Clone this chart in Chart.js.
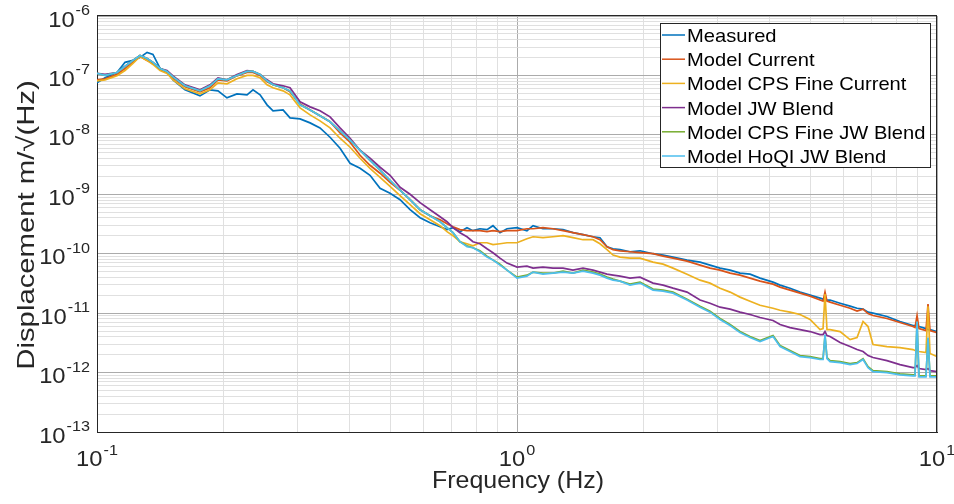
<!DOCTYPE html>
<html>
<head>
<meta charset="utf-8">
<script src="https://cdn.jsdelivr.net/npm/chart.js@4.4.0/dist/chart.umd.min.js"></script>
<style>
  html, body { margin: 0; padding: 0; background: #fff; }
</style>
</head>
<body>
<canvas id="chart" width="954" height="504"></canvas>
<script>
// Frequenzen (Hz), gemeinsam fuer alle Kurven
const freq = [0.1, 0.1045, 0.1116, 0.1166, 0.1218, 0.1266, 0.1316, 0.1359, 0.1413, 0.1468,
  0.1517, 0.162, 0.1759, 0.1858, 0.1941, 0.2039, 0.2154, 0.2276, 0.2352, 0.2445,
  0.254, 0.2625, 0.2773, 0.2881, 0.3044, 0.3216, 0.3396, 0.3588, 0.379, 0.4004,
  0.423, 0.4467, 0.472, 0.4986, 0.5267, 0.5564, 0.5878, 0.6209, 0.6559, 0.6813,
  0.7041, 0.7316, 0.7601, 0.7855, 0.8162, 0.8483, 0.8766, 0.9109, 0.9467, 1.0,
  1.056, 1.092, 1.153, 1.218, 1.287, 1.359, 1.436, 1.517, 1.576, 1.638,
  1.693, 1.759, 1.858, 1.963, 2.108, 2.227, 2.352, 2.54, 2.728, 2.881,
  3.044, 3.216, 3.396, 3.588, 3.79, 4.07, 4.23, 4.467, 4.72, 4.986,
  5.267, 5.354, 5.412, 5.471, 5.564, 5.878, 6.209, 6.451, 6.667, 6.852,
  7.041, 7.601, 8.162, 8.766, 8.864, 8.964, 9.061, 9.414, 9.519, 9.624,
  10];

const measured = [7.51e-8, 9.12e-8, 1.12e-7, 1.66e-7, 1.79e-7, 2.01e-7, 2.44e-7, 2.26e-7, 1.31e-7, 1.17e-7,
  8.44e-8, 5.72e-8, 4.53e-8, 5.72e-8, 5.50e-8, 4.19e-8, 4.90e-8, 4.71e-8, 5.72e-8, 4.71e-8,
  3.20e-8, 2.54e-8, 2.63e-8, 1.93e-8, 1.86e-8, 1.59e-8, 1.31e-8, 9.12e-9, 5.95e-9, 3.32e-9,
  2.74e-9, 2.09e-9, 1.26e-9, 1.04e-9, 8.12e-10, 5.50e-10, 4.04e-10, 3.32e-10, 2.85e-10, 2.54e-10,
  2.74e-10, 2.35e-10, 2.74e-10, 2.44e-10, 2.63e-10, 2.54e-10, 2.96e-10, 2.26e-10, 2.63e-10, 2.74e-10,
  2.44e-10, 2.96e-10, 2.63e-10, 2.63e-10, 2.54e-10, 2.26e-10, 2.09e-10, 1.93e-10, 1.86e-10, 1.31e-10,
  1.21e-10, 1.17e-10, 1.08e-10, 1.12e-10, 1.00e-10, 9.48e-11, 8.77e-11, 7.81e-11, 7.23e-11, 6.43e-11,
  5.72e-11, 5.29e-11, 4.71e-11, 4.53e-11, 3.88e-11, 3.32e-11, 2.96e-11, 2.63e-11, 2.26e-11, 2.01e-11,
  1.79e-11, 1.72e-11, 1.66e-11, 1.66e-11, 1.66e-11, 1.47e-11, 1.31e-11, 1.21e-11, 1.17e-11, 1.04e-11,
  1.00e-11, 8.77e-12, 7.23e-12, 6.19e-12, 6.19e-12, 6.19e-12, 5.95e-12, 5.50e-12, 5.29e-12, 5.29e-12,
  4.90e-12];

const modelCurrent = [8.44e-8, 8.77e-8, 1.04e-7, 1.31e-7, 1.66e-7, 2.09e-7, 1.79e-7, 1.59e-7, 1.26e-7, 1.12e-7,
  9.12e-8, 6.43e-8, 5.29e-8, 6.19e-8, 8.44e-8, 8.12e-8, 9.85e-8, 1.12e-7, 1.12e-7, 1.00e-7,
  7.81e-8, 6.95e-8, 6.19e-8, 5.29e-8, 3.32e-8, 2.63e-8, 2.09e-8, 1.66e-8, 1.08e-8, 7.51e-9,
  4.53e-9, 3.08e-9, 2.26e-9, 1.59e-9, 1.17e-9, 8.12e-10, 5.50e-10, 4.36e-10, 3.73e-10, 3.20e-10,
  2.85e-10, 2.54e-10, 2.44e-10, 2.44e-10, 2.44e-10, 2.35e-10, 2.44e-10, 2.35e-10, 2.44e-10, 2.44e-10,
  2.63e-10, 2.63e-10, 2.74e-10, 2.63e-10, 2.44e-10, 2.26e-10, 2.09e-10, 1.93e-10, 1.72e-10, 1.31e-10,
  1.17e-10, 1.12e-10, 1.08e-10, 1.04e-10, 1.00e-10, 9.12e-11, 8.44e-11, 7.51e-11, 6.43e-11, 5.72e-11,
  5.29e-11, 4.71e-11, 4.36e-11, 3.88e-11, 3.45e-11, 3.08e-11, 2.74e-11, 2.44e-11, 2.17e-11, 1.93e-11,
  1.66e-11, 1.59e-11, 2.26e-11, 1.59e-11, 1.53e-11, 1.36e-11, 1.21e-11, 1.08e-11, 1.17e-11, 9.85e-12,
  9.12e-12, 8.12e-12, 6.95e-12, 5.95e-12, 5.72e-12, 9.12e-12, 5.50e-12, 5.09e-12, 1.42e-11, 5.09e-12,
  4.71e-12];

const cpsFineCurrent = [8.12e-8, 8.44e-8, 9.85e-8, 1.21e-7, 1.59e-7, 2.09e-7, 1.79e-7, 1.53e-7, 1.21e-7, 1.08e-7,
  8.44e-8, 5.95e-8, 4.90e-8, 5.72e-8, 7.51e-8, 7.23e-8, 8.77e-8, 1.00e-7, 1.00e-7, 9.12e-8,
  6.95e-8, 6.19e-8, 5.50e-8, 4.71e-8, 2.85e-8, 2.17e-8, 1.72e-8, 1.31e-8, 8.77e-9, 6.19e-9,
  4.04e-9, 2.74e-9, 1.93e-9, 1.36e-9, 9.48e-10, 6.69e-10, 4.71e-10, 3.73e-10, 2.96e-10, 2.35e-10,
  2.01e-10, 1.59e-10, 1.47e-10, 1.36e-10, 1.53e-10, 1.53e-10, 1.42e-10, 1.47e-10, 1.53e-10, 1.53e-10,
  1.79e-10, 1.93e-10, 1.86e-10, 1.93e-10, 2.01e-10, 1.86e-10, 1.72e-10, 1.72e-10, 1.47e-10, 1.17e-10,
  9.48e-11, 8.77e-11, 8.44e-11, 8.44e-11, 7.23e-11, 6.69e-11, 5.72e-11, 4.53e-11, 3.59e-11, 3.20e-11,
  2.63e-11, 2.26e-11, 1.86e-11, 1.59e-11, 1.36e-11, 1.21e-11, 1.12e-11, 1.04e-11, 9.48e-12, 7.81e-12,
  5.29e-12, 5.50e-12, 2.09e-11, 5.29e-12, 5.29e-12, 4.90e-12, 3.59e-12, 3.88e-12, 7.23e-12, 5.95e-12,
  2.96e-12, 2.74e-12, 2.63e-12, 2.44e-12, 2.35e-12, 2.35e-12, 2.26e-12, 2.17e-12, 1.31e-11, 2.09e-12,
  1.86e-12];

const jwBlend = [1.08e-7, 1.04e-7, 1.12e-7, 1.42e-7, 1.79e-7, 2.17e-7, 1.93e-7, 1.66e-7, 1.31e-7, 1.21e-7,
  9.85e-8, 6.95e-8, 5.72e-8, 6.95e-8, 9.12e-8, 8.44e-8, 1.04e-7, 1.21e-7, 1.17e-7, 1.04e-7,
  8.44e-8, 7.23e-8, 6.69e-8, 6.19e-8, 3.59e-8, 2.96e-8, 2.54e-8, 2.01e-8, 1.31e-8, 8.77e-9,
  5.50e-9, 4.04e-9, 2.85e-9, 2.09e-9, 1.31e-9, 1.00e-9, 7.23e-10, 5.50e-10, 4.19e-10, 3.45e-10,
  2.74e-10, 2.26e-10, 1.93e-10, 1.59e-10, 1.47e-10, 1.21e-10, 1.04e-10, 8.44e-11, 6.95e-11, 5.95e-11,
  6.19e-11, 5.72e-11, 5.95e-11, 5.72e-11, 5.72e-11, 5.29e-11, 5.72e-11, 5.29e-11, 4.90e-11, 4.53e-11,
  4.36e-11, 4.19e-11, 3.88e-11, 4.04e-11, 3.20e-11, 2.96e-11, 2.63e-11, 2.26e-11, 1.66e-11, 1.47e-11,
  1.26e-11, 1.17e-11, 1.04e-11, 9.48e-12, 8.44e-12, 7.51e-12, 6.43e-12, 5.72e-12, 5.29e-12, 4.90e-12,
  4.36e-12, 4.36e-12, 4.90e-12, 4.19e-12, 4.04e-12, 3.20e-12, 2.74e-12, 2.44e-12, 2.26e-12, 1.93e-12,
  1.79e-12, 1.59e-12, 1.36e-12, 1.21e-12, 1.21e-12, 1.31e-12, 1.17e-12, 1.12e-12, 1.17e-12, 1.08e-12,
  1.04e-12];

const cpsFineJwBlend = [1.08e-7, 1.00e-7, 1.12e-7, 1.42e-7, 1.79e-7, 2.17e-7, 1.93e-7, 1.66e-7, 1.31e-7, 1.17e-7,
  9.48e-8, 6.69e-8, 5.50e-8, 6.69e-8, 8.77e-8, 8.44e-8, 1.00e-7, 1.17e-7, 1.17e-7, 1.04e-7,
  8.12e-8, 6.95e-8, 6.19e-8, 5.50e-8, 3.20e-8, 2.63e-8, 2.09e-8, 1.66e-8, 1.17e-8, 8.12e-9,
  5.50e-9, 3.73e-9, 2.54e-9, 1.72e-9, 1.17e-9, 8.12e-10, 5.50e-10, 4.36e-10, 3.45e-10, 2.74e-10,
  2.26e-10, 1.59e-10, 1.36e-10, 1.26e-10, 1.12e-10, 9.12e-11, 7.81e-11, 6.69e-11, 5.29e-11, 4.04e-11,
  4.36e-11, 4.90e-11, 4.71e-11, 4.71e-11, 5.09e-11, 4.71e-11, 5.29e-11, 4.90e-11, 4.53e-11, 4.04e-11,
  3.73e-11, 3.45e-11, 3.08e-11, 3.32e-11, 2.54e-11, 2.44e-11, 2.26e-11, 1.72e-11, 1.31e-11, 1.08e-11,
  8.12e-12, 6.43e-12, 4.90e-12, 4.04e-12, 3.45e-12, 4.19e-12, 2.85e-12, 2.35e-12, 1.93e-12, 1.86e-12,
  1.72e-12, 1.72e-12, 4.19e-12, 1.79e-12, 1.59e-12, 1.53e-12, 1.42e-12, 1.47e-12, 1.72e-12, 1.26e-12,
  1.08e-12, 1.04e-12, 9.48e-13, 9.12e-13, 9.12e-13, 6.95e-12, 8.77e-13, 8.77e-13, 3.73e-12, 8.77e-13,
  8.77e-13];

const hoqiJwBlend = [1.08e-7, 1.00e-7, 1.12e-7, 1.42e-7, 1.79e-7, 2.17e-7, 1.93e-7, 1.66e-7, 1.31e-7, 1.17e-7,
  9.48e-8, 6.69e-8, 5.50e-8, 6.69e-8, 8.77e-8, 8.44e-8, 1.00e-7, 1.17e-7, 1.17e-7, 1.04e-7,
  8.12e-8, 6.95e-8, 6.19e-8, 5.50e-8, 3.20e-8, 2.63e-8, 2.09e-8, 1.66e-8, 1.17e-8, 8.12e-9,
  5.50e-9, 3.73e-9, 2.54e-9, 1.72e-9, 1.17e-9, 8.12e-10, 5.50e-10, 4.36e-10, 3.45e-10, 2.74e-10,
  2.26e-10, 1.59e-10, 1.31e-10, 1.26e-10, 1.08e-10, 8.77e-11, 7.81e-11, 6.43e-11, 5.29e-11, 3.88e-11,
  4.19e-11, 4.90e-11, 4.53e-11, 4.71e-11, 4.90e-11, 4.71e-11, 5.09e-11, 4.71e-11, 4.36e-11, 3.88e-11,
  3.59e-11, 3.45e-11, 2.96e-11, 3.20e-11, 2.44e-11, 2.35e-11, 2.17e-11, 1.66e-11, 1.26e-11, 1.04e-11,
  7.81e-12, 6.19e-12, 4.71e-12, 3.88e-12, 3.32e-12, 4.04e-12, 2.74e-12, 2.26e-12, 1.86e-12, 1.79e-12,
  1.66e-12, 1.66e-12, 4.36e-12, 1.72e-12, 1.53e-12, 1.47e-12, 1.36e-12, 1.42e-12, 1.66e-12, 1.21e-12,
  1.04e-12, 1.00e-12, 9.12e-13, 8.77e-13, 8.77e-13, 7.23e-12, 8.44e-13, 8.44e-13, 3.88e-12, 8.44e-13,
  8.44e-13];

const seriesNames = ["Measured", "Model Current", "Model CPS Fine Current", "Model JW Blend",
  "Model CPS Fine JW Blend", "Model HoQI JW Blend"];
const seriesColors = ["#0072BD", "#D95319", "#EDB120", "#7E2F8E", "#77AC30", "#4DBEEE"];
const seriesValues = [measured, modelCurrent, cpsFineCurrent, jwBlend, cpsFineJwBlend, hoqiJwBlend];

// Dekaden der Achsen (Exponenten) und Zwischenstufen fuer das Gitter
const xDecades = [-1, 0, 1];
const yDecades = [-13, -12, -11, -10, -9, -8, -7, -6];
const minorSteps = [1, 2, 3, 4, 5, 6, 7, 8, 9];

const FONT = "'Liberation Sans', Arial, Helvetica, sans-serif";
const TEXT = "#262626";

const logTicks = (decades) => {
  const out = [];
  for (let i = 0; i < decades.length - 1; i++) {
    minorSteps.forEach((s) => {
      out.push({ value: Number((s * Math.pow(10, decades[i])).toPrecision(3)), major: s === 1 });
    });
  }
  out.push({ value: Math.pow(10, decades[decades.length - 1]), major: true });
  return out;
};

// Text leicht in Schriftrichtung gedehnt, wie im Original
const stretchText = (ctx, txt, x, y, size, align, sx) => {
  ctx.save();
  ctx.font = size + "px " + FONT;
  const w = ctx.measureText(txt).width * sx;
  const x0 = align === "right" ? x - w : align === "center" ? x - w / 2 : x;
  ctx.translate(x0, y);
  ctx.scale(sx, 1);
  ctx.textAlign = "left";
  ctx.textBaseline = "alphabetic";
  ctx.fillText(txt, 0, 0);
  ctx.restore();
  return w;
};

const textWidth = (ctx, txt, size, sx) => {
  ctx.save();
  ctx.font = size + "px " + FONT;
  const w = ctx.measureText(txt).width * sx;
  ctx.restore();
  return w;
};

const matlabAxes = {
  id: "matlabAxes",
  afterDraw(chart) {
    const { ctx, chartArea: a } = chart;
    const xs = chart.scales.x;
    const ys = chart.scales.y;
    ctx.save();
    ctx.fillStyle = TEXT;

    // Rahmen oben/rechts
    ctx.strokeStyle = "#262626";
    ctx.lineWidth = 1;
    ctx.beginPath();
    ctx.moveTo(a.left, Math.round(a.top) - 0.5);
    ctx.lineTo(a.right, Math.round(a.top) - 0.5);
    ctx.moveTo(Math.round(a.right) - 0.5, a.top);
    ctx.lineTo(Math.round(a.right) - 0.5, a.bottom);
    ctx.stroke();

    // y-Beschriftung 10^n
    yDecades.forEach((e) => {
      const py = ys.getPixelForValue(Math.pow(10, e));
      const wE = stretchText(ctx, String(e), 90, py - 1, 15, "right", 1.08);
      stretchText(ctx, "10", 90 - wE - 1, py + 10.5, 22, "right", 1.08);
    });

    // x-Beschriftung 10^n
    xDecades.forEach((e) => {
      const px = xs.getPixelForValue(Math.pow(10, e));
      const w10 = textWidth(ctx, "10", 22, 1.08);
      const wE = textWidth(ctx, String(e), 15, 1.08);
      const x0 = px - (w10 + wE + 1) / 2;
      stretchText(ctx, "10", x0, 466, 22, "left", 1.08);
      stretchText(ctx, String(e), x0 + w10 + 1, 455, 15, "left", 1.08);
    });

    // Achsentitel
    stretchText(ctx, "Frequency (Hz)", 518, 488, 24, "center", 1.04);
    ctx.save();
    ctx.translate(34, 225);
    ctx.rotate(-Math.PI / 2);
    stretchText(ctx, "Displacement m/\u221A(Hz)", 0, 0, 24, "center", 1.22);
    ctx.restore();

    // Legende
    const lx = 660, ly = 23, lw = 270, lh = 144;
    ctx.fillStyle = "#fff";
    ctx.fillRect(lx, ly, lw, lh);
    ctx.strokeStyle = "#262626";
    ctx.strokeRect(lx + 0.5, ly + 0.5, lw, lh);
    seriesNames.forEach((name, i) => {
      const rowY = 35 + i * 24.2;
      ctx.strokeStyle = seriesColors[i];
      ctx.lineWidth = 1.5;
      ctx.beginPath();
      ctx.moveTo(662, rowY);
      ctx.lineTo(685, rowY);
      ctx.stroke();
      ctx.fillStyle = "#000";
      stretchText(ctx, name, 687, rowY + 7, 19, "left", 1.06);
    });
    ctx.restore();
  },
};

const gridColor = (c) => (c.tick && c.tick.major ? "#ababab" : "#e0e0e0");

const ctx = document.getElementById("chart").getContext("2d");
new Chart(ctx, {
  type: "line",
  data: {
    datasets: seriesValues.map((vals, i) => ({
      label: seriesNames[i],
      data: freq.map((f, k) => ({ x: f, y: vals[k] })),
      borderColor: seriesColors[i],
      backgroundColor: seriesColors[i],
      borderWidth: 1.7,
      pointRadius: 0,
      fill: false,
      tension: 0,
      order: seriesValues.length - i,
    })),
  },
  options: {
    responsive: false,
    animation: false,
    layout: { padding: { top: 16, right: 17, left: 0, bottom: 0 } },
    plugins: { legend: { display: false }, tooltip: { enabled: false } },
    scales: {
      x: {
        type: "logarithmic",
        min: 0.1,
        max: 10,
        ticks: { display: false },
        grid: { color: gridColor, lineWidth: 1, drawTicks: false },
        border: { display: true, color: "#262626", width: 1 },
        afterBuildTicks: (s) => { s.ticks = logTicks(xDecades); },
        afterFit: (s) => { s.height = 72; },
      },
      y: {
        type: "logarithmic",
        min: 1e-13,
        max: 1e-6,
        ticks: { display: false },
        grid: { color: gridColor, lineWidth: 1, drawTicks: false },
        border: { display: true, color: "#262626", width: 1 },
        afterBuildTicks: (s) => { s.ticks = logTicks(yDecades); },
        afterFit: (s) => { s.width = 97; },
      },
    },
  },
  plugins: [matlabAxes],
});
</script>
</body>
</html>
